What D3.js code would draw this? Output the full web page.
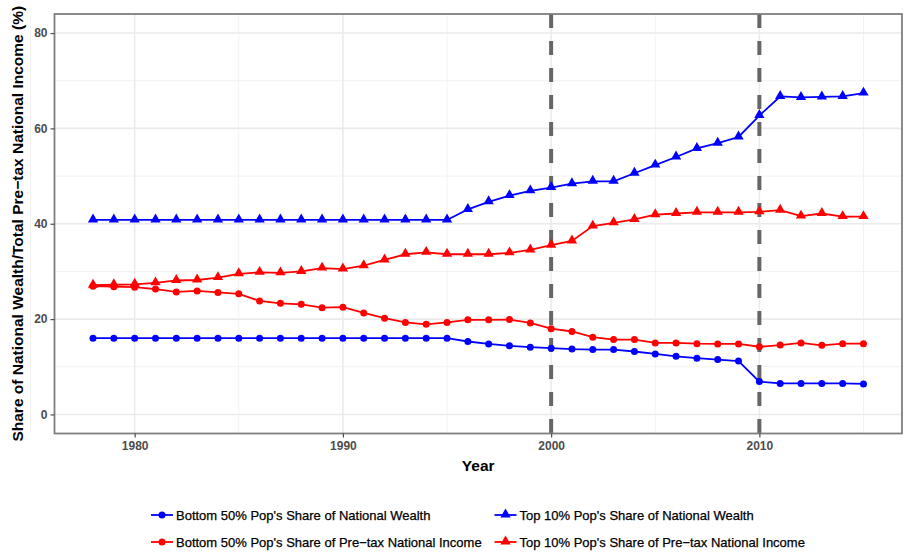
<!DOCTYPE html>
<html>
<head>
<meta charset="utf-8">
<script src="https://cdn.jsdelivr.net/npm/d3@7"></script>
<style>
  html, body { margin: 0; padding: 0; background: #ffffff; }
  svg { display: block; font-family: "Liberation Sans", Arial, sans-serif; }
</style>
</head>
<body>
<svg id="chart" width="906" height="555"></svg>
<script>
// Years covered by every series
const years = d3.range(1978, 2016);

// Bottom 50% share of national wealth (%)
const bottom50Wealth = [
  16.0, 16.0, 16.0, 16.0, 16.0, 16.0, 16.0, 16.0, 16.0, 16.0,
  16.0, 16.0, 16.0, 16.0, 16.0, 16.0, 16.0, 16.0, 15.3, 14.8,
  14.4, 14.1, 13.9, 13.7, 13.6, 13.6, 13.2, 12.7, 12.2, 11.8,
  11.5, 11.2, 6.9, 6.5, 6.5, 6.5, 6.5, 6.4
];

// Top 10% share of national wealth (%)
const top10Wealth = [
  40.8, 40.8, 40.8, 40.8, 40.8, 40.8, 40.8, 40.8, 40.8, 40.8,
  40.8, 40.8, 40.8, 40.8, 40.8, 40.8, 40.8, 40.8, 43.0, 44.6,
  45.9, 46.9, 47.6, 48.4, 48.9, 48.9, 50.6, 52.3, 54.0, 55.8,
  56.9, 58.2, 62.7, 66.7, 66.5, 66.6, 66.7, 67.4
];

// Bottom 50% share of pre-tax national income (%)
const bottom50Income = [
  26.9, 26.8, 26.7, 26.3, 25.7, 25.9, 25.6, 25.3, 23.8, 23.3,
  23.1, 22.4, 22.5, 21.3, 20.2, 19.3, 18.9, 19.3, 19.85, 19.85,
  19.9, 19.2, 18.0, 17.4, 16.2, 15.7, 15.7, 15.0, 15.0, 14.85,
  14.8, 14.8, 14.2, 14.55, 15.0, 14.5, 14.85, 14.85
];

// Top 10% share of pre-tax national income (%)
const top10Income = [
  27.1, 27.2, 27.3, 27.6, 28.1, 28.2, 28.7, 29.5, 29.8, 29.7,
  30.0, 30.7, 30.5, 31.2, 32.4, 33.6, 34.0, 33.6, 33.6, 33.6,
  33.9, 34.5, 35.5, 36.4, 39.5, 40.2, 40.9, 41.9, 42.15, 42.4,
  42.4, 42.4, 42.5, 42.85, 41.6, 42.15, 41.5, 41.5
];

// Years marked with a vertical reference line
const markerYears = [2000, 2010];

// Axis ticks
const xMajorTicks = [1980, 1990, 2000, 2010];
const xMinorTicks = [1975, 1985, 1995, 2005, 2015];
const yMajorTicks = [0, 20, 40, 60, 80];
const yMinorTicks = [10, 30, 50, 70];

const seriesNames = [
  "Bottom 50% Pop's Share of National Wealth",
  "Top 10% Pop's Share of National Wealth",
  "Bottom 50% Pop's Share of Pre\u2212tax National Income",
  "Top 10% Pop's Share of Pre\u2212tax National Income"
];
const seriesValues = [bottom50Wealth, top10Wealth, bottom50Income, top10Income];
const seriesColors = ["#0000ff", "#0000ff", "#ff0000", "#ff0000"];
const seriesShapes = ["circle", "triangle", "circle", "triangle"];

const series = seriesNames.map((name, i) => ({
  name,
  color: seriesColors[i],
  shape: seriesShapes[i],
  points: years.map((yr, j) => ({ year: yr, value: seriesValues[i][j] }))
}));

const svg = d3.select("#chart");
const panel = { left: 54.5, right: 902, top: 14, bottom: 433.5 };

const x = d3.scaleLinear()
  .domain([1976.15, 2016.85])
  .range([panel.left, panel.right]);
const y = d3.scaleLinear()
  .domain([-4, 84])
  .range([panel.bottom, panel.top]);

// Panel background
svg.append("rect")
  .attr("x", panel.left).attr("y", panel.top)
  .attr("width", panel.right - panel.left)
  .attr("height", panel.bottom - panel.top)
  .attr("fill", "#ffffff");

// Grid lines
const grid = svg.append("g").attr("fill", "none");
grid.selectAll(".xminor").data(xMinorTicks).join("line")
  .attr("x1", d => x(d)).attr("x2", d => x(d))
  .attr("y1", panel.top).attr("y2", panel.bottom)
  .attr("stroke", "#f2f2f2").attr("stroke-width", 1);
grid.selectAll(".yminor").data(yMinorTicks).join("line")
  .attr("y1", d => y(d)).attr("y2", d => y(d))
  .attr("x1", panel.left).attr("x2", panel.right)
  .attr("stroke", "#f2f2f2").attr("stroke-width", 1);
grid.selectAll(".xmajor").data(xMajorTicks).join("line")
  .attr("x1", d => x(d)).attr("x2", d => x(d))
  .attr("y1", panel.top).attr("y2", panel.bottom)
  .attr("stroke", "#ebebeb").attr("stroke-width", 1.6);
grid.selectAll(".ymajor").data(yMajorTicks).join("line")
  .attr("y1", d => y(d)).attr("y2", d => y(d))
  .attr("x1", panel.left).attr("x2", panel.right)
  .attr("stroke", "#ebebeb").attr("stroke-width", 1.6);

// Dashed reference lines
svg.append("g").selectAll("line").data(markerYears).join("line")
  .attr("x1", d => x(d)).attr("x2", d => x(d))
  .attr("y1", panel.top).attr("y2", panel.bottom)
  .attr("stroke", "#666666")
  .attr("stroke-width", 4)
  .attr("stroke-dasharray", "14,13");

// Series lines and markers
const line = d3.line()
  .x(d => x(d.year))
  .y(d => y(d.value));

const triangle = d3.symbol().type(d3.symbolTriangle).size(46);

const seriesG = svg.append("g").selectAll("g").data(series).join("g");
seriesG.append("path")
  .attr("d", d => line(d.points))
  .attr("fill", "none")
  .attr("stroke", d => d.color)
  .attr("stroke-width", 1.8);

seriesG.each(function (s) {
  const g = d3.select(this);
  if (s.shape === "circle") {
    g.selectAll("circle").data(s.points).join("circle")
      .attr("cx", d => x(d.year))
      .attr("cy", d => y(d.value))
      .attr("r", 3.5)
      .attr("fill", s.color);
  } else {
    g.selectAll("path.pt").data(s.points).join("path")
      .attr("class", "pt")
      .attr("d", triangle)
      .attr("transform", d => `translate(${x(d.year)},${y(d.value) - 0.5})`)
      .attr("fill", s.color);
  }
});

// Panel border
svg.append("rect")
  .attr("x", panel.left).attr("y", panel.top)
  .attr("width", panel.right - panel.left)
  .attr("height", panel.bottom - panel.top)
  .attr("fill", "none")
  .attr("stroke", "#7f7f7f")
  .attr("stroke-width", 1.8);

// Axes
const xAxis = d3.axisBottom(x).tickValues(xMajorTicks).tickSize(4).tickPadding(4).tickFormat(d3.format("d"));
const yAxis = d3.axisLeft(y).tickValues(yMajorTicks).tickSize(4).tickPadding(3);

const gx = svg.append("g")
  .attr("transform", `translate(0,${panel.bottom})`)
  .call(xAxis);
const gy = svg.append("g")
  .attr("transform", `translate(${panel.left},0)`)
  .call(yAxis);

[gx, gy].forEach(g => {
  g.select(".domain").remove();
  g.selectAll(".tick line").attr("stroke", "#4d4d4d").attr("stroke-width", 1.2);
  g.selectAll(".tick text")
    .attr("fill", "#4d4d4d")
    .style("font-size", "12px")
    .style("font-weight", "bold")
    .style("font-family", "'Liberation Sans', Arial, sans-serif");
});

// Axis titles
svg.append("text")
  .attr("x", (panel.left + panel.right) / 2)
  .attr("y", 471)
  .attr("text-anchor", "middle")
  .attr("fill", "#000000")
  .style("font-size", "15.5px")
  .style("font-weight", "bold")
  .text("Year");

svg.append("text")
  .attr("transform", `translate(23,${(panel.top + panel.bottom) / 2}) rotate(-90)`)
  .attr("text-anchor", "middle")
  .attr("fill", "#000000")
  .style("font-size", "15.5px")
  .style("font-weight", "bold")
  .text("Share of National Wealth/Total Pre\u2212tax National Income (%)");

// Legend: two columns, two rows
const legendCols = [151, 494.5];
const legendRows = [515, 542];
const legendOrder = [0, 1, 2, 3];
const legend = svg.append("g").selectAll("g").data(legendOrder.map(i => series[i])).join("g")
  .attr("transform", (d, i) => `translate(${legendCols[i % 2]},${legendRows[Math.floor(i / 2)]})`);

legend.append("line")
  .attr("x1", 0).attr("x2", 22)
  .attr("y1", 0).attr("y2", 0)
  .attr("stroke", d => d.color)
  .attr("stroke-width", 1.8);
legend.each(function (s) {
  const g = d3.select(this);
  if (s.shape === "circle") {
    g.append("circle").attr("cx", 11).attr("cy", 0).attr("r", 3.5).attr("fill", s.color);
  } else {
    g.append("path").attr("d", triangle).attr("transform", "translate(11,-0.5)").attr("fill", s.color);
  }
});
legend.append("text")
  .attr("x", 25)
  .attr("y", 0)
  .attr("dy", "0.35em")
  .attr("fill", "#000000")
  .attr("stroke", "#000000")
  .attr("stroke-width", 0.25)
  .style("font-size", "13px")
  .text(d => d.name);
</script>
</body>
</html>
